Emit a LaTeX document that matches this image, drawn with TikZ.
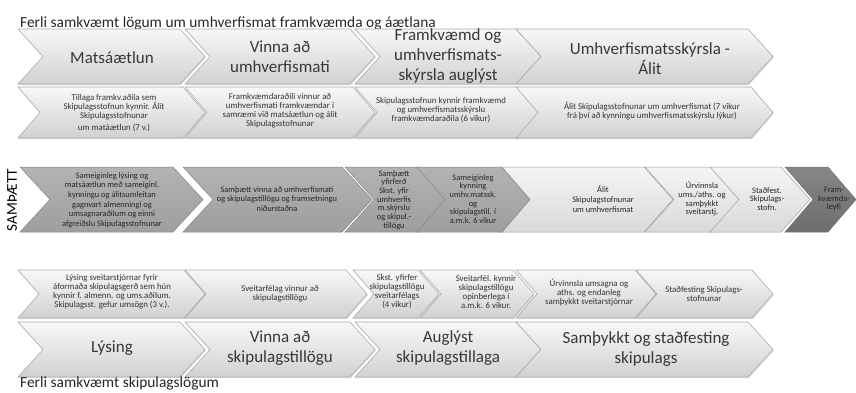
\documentclass[tikz,border=0pt]{standalone}
\usepackage{fontspec}
\setmainfont{Carlito}
\usetikzlibrary{shadows}
\newcommand\mychev[6]{% style, x-left, x-tip, y-top, y-bottom, depth
  \path[#1] (#2,#4) -- ({#3-#6},#4) -- (#3,{(#4+#5)/2}) -- ({#3-#6},#5) -- (#2,#5) -- ({#2+#6},{(#4+#5)/2}) -- cycle;}
\tikzset{
  lightchev/.style={top color=gray!6, bottom color=gray!36, draw=gray!65, line width=0.6pt,
    drop shadow={opacity=0.25, shadow xshift=0.8pt, shadow yshift=-1.2pt}},
  midchev/.style={top color=gray!8, bottom color=gray!30, draw=gray!75, line width=0.5pt},
  darkchev/.style={top color=gray!60, bottom color=gray!76, draw=gray!95, line width=0.5pt},
  darkestchev/.style={top color=gray!95, bottom color=black!57, draw=gray!95!black, line width=0.5pt},
  bigtxt/.style={text=black!78, font=\fontsize{17}{20}\selectfont, align=center, inner sep=0pt},
  smalltxt/.style={text=black!80, font=\fontsize{8.8}{9}\selectfont, align=center, inner sep=0pt},
  midtxt/.style={text=black!85, font=\fontsize{8.4}{9.6}\selectfont, align=center, inner sep=0pt},
  tighttxt/.style={text=black!85, font=\fontsize{8.4}{8.7}\selectfont, align=center, inner sep=0pt},
  titletxt/.style={text=black!85, font=\fontsize{15.4}{18}\selectfont, inner sep=0pt},
}
\begin{document}
\begin{tikzpicture}[x=1pt, y=-1pt]
\path[use as bounding box, fill=white] (0,0) rectangle (856,392);

% titles
\node[titletxt, anchor=base west] (t1) at (20,27) {Ferli samkvæmt lögum um umhverfismat framkvæmda og áætlana};

% row 1
\mychev{lightchev}{18}{205}{29}{84}{25}
\mychev{lightchev}{185}{375}{29}{84}{25}
\mychev{lightchev}{355}{541}{29}{84}{25}
\mychev{lightchev}{516}{773}{29}{84}{25}
\node[bigtxt] (a1) at (112,58) {Matsáætlun};
\node[bigtxt] (a2) at (280,57) {Vinna að\\umhverfismati};
\node[bigtxt] (a3) at (448,56) {Framkvæmd og\\umhverfismats-\\skýrsla auglýst};
\node[bigtxt] (a4) at (650,59) {Umhverfismatsskýrsla -\\Álit};

% row 2
\mychev{lightchev}{18}{205}{87}{138}{22}
\mychev{lightchev}{185}{375}{87}{138}{22}
\mychev{lightchev}{355}{541}{87}{138}{22}
\mychev{lightchev}{516}{773}{87}{138}{22}
\node[smalltxt] (b1) at (114,113) {Tillaga framkv.aðila sem\\Skipulagsstofnun kynnir. Álit\\Skipulagsstofnunar\\[3pt]um matáætlun (7 v.)};
\node[smalltxt] (b2) at (280,111) {Framkvæmdaraðili vinnur að\\umhverfismati framkvæmdar í\\samræmi við matsáætlun og álit\\Skipulagsstofnunar};
\node[smalltxt] (b3) at (441,110) {Skipulagsstofnun kynnir framkvæmd\\og umhverfismatsskýrslu\\framkvæmdaraðila (6 vikur)};
\node[smalltxt] (b4) at (652,111) {Álit Skipulagsstofnunar um umhverfismat (7 vikur\\frá því að kynningu umhverfismatsskýrslu lýkur)};

% row 3 (samþætt)
\node[text=black, font=\fontsize{15}{18}\selectfont, rotate=90, inner sep=0pt] (sam) at (12,200) {SAMÞÆTT};
\mychev{midchev}{500}{673}{167}{232}{29}
\mychev{darkchev}{20}{203}{167}{232}{30}
\mychev{darkchev}{183}{372}{167}{232}{30}
\mychev{darkchev}{345}{447}{167}{232}{29}
\mychev{darkchev}{417}{530}{167}{232}{28}
\mychev{midchev}{645}{742}{167}{232}{29}
\mychev{midchev}{710}{810}{167}{232}{29}
\mychev{darkestchev}{785}{856}{167}{232}{28}
\node[midtxt] (c1) at (112,200) {Sameiginleg lýsing og\\matsáætlun með sameiginl.\\kynningu og álitsumleitan\\gagnvart almenningi og\\umsagnaraðilum og einni\\afgreiðslu Skipulagsstofnunar};
\node[midtxt] (c2) at (277,199) {Samþætt vinna að umhverfismati\\og skipulagstillögu og framsetningu\\niðurstaðna};
\node[tighttxt] (c3) at (394,200) {Samþætt\\yfirferð\\Skst. yfir\\umhverfis\\m.skýrslu\\og skipul.-\\tillögu};
\node[tighttxt] (c4) at (473,199) {Sameiginleg\\kynning\\umhv.matssk.\\og\\skipulagstill. í\\a.m.k. 6 vikur};
\node[midtxt] (c5) at (603,199) {Álit\\Skipulagstofnunar\\um umhverfismat};
\node[tighttxt] (c6) at (702,199) {Úrvinnsla\\ums./aths. og\\samþykkt\\sveitarstj.};
\node[tighttxt] (c7) at (767,199) {Staðfest.\\Skipulags-\\stofn.};
\node[tighttxt] (c8) at (834,199) {Fram-\\kvæmda-\\leyfi};

% row 4
\mychev{lightchev}{18}{205}{270}{318}{21}
\mychev{lightchev}{185}{367}{270}{318}{21}
\mychev{lightchev}{353}{439}{270}{318}{21}
\mychev{lightchev}{420}{534}{270}{318}{21}
\mychev{lightchev}{516}{656}{270}{318}{21}
\mychev{lightchev}{636}{773}{270}{318}{21}
\node[smalltxt] (d1) at (112,292) {Lýsing sveitarstjórnar fyrir\\áformaða skipulagsgerð sem hún\\kynnir f. almenn. og ums.aðilum.\\Skipulagsst. gefur umsögn (3 v.).};
\node[smalltxt] (d2) at (280,294) {Sveitarfélag vinnur að\\skipulagstillögu};
\node[smalltxt] (d3) at (397,292) {Skst. yfirfer\\skipulagstillögu\\sveitarfélags\\(4 vikur)};
\node[smalltxt] (d4) at (486,292) {Sveitarfél. kynnir\\skipulagstillögu\\opinberlega í\\a.m.k. 6 vikur.};
\node[smalltxt] (d5) at (589,293) {Úrvinnsla umsagna og\\aths. og endanleg\\samþykkt sveitarstjórnar};
\node[smalltxt] (d6) at (704,294) {Staðfesting Skipulags-\\stofnunar};

% row 5
\mychev{lightchev}{18}{205}{322}{377}{25}
\mychev{lightchev}{185}{375}{322}{377}{25}
\mychev{lightchev}{355}{541}{322}{377}{25}
\mychev{lightchev}{516}{773}{322}{377}{25}
\node[bigtxt] (e1) at (112,348) {Lýsing};
\node[bigtxt] (e2) at (280,348) {Vinna að\\skipulagstillögu};
\node[bigtxt] (e3) at (448,348) {Auglýst\\skipulagstillaga};
\node[bigtxt] (e4) at (646,349) {Samþykkt og staðfesting\\skipulags};

\node[titletxt, anchor=base west] (t2) at (20,387) {Ferli samkvæmt skipulagslögum};
\end{tikzpicture}
\end{document}
